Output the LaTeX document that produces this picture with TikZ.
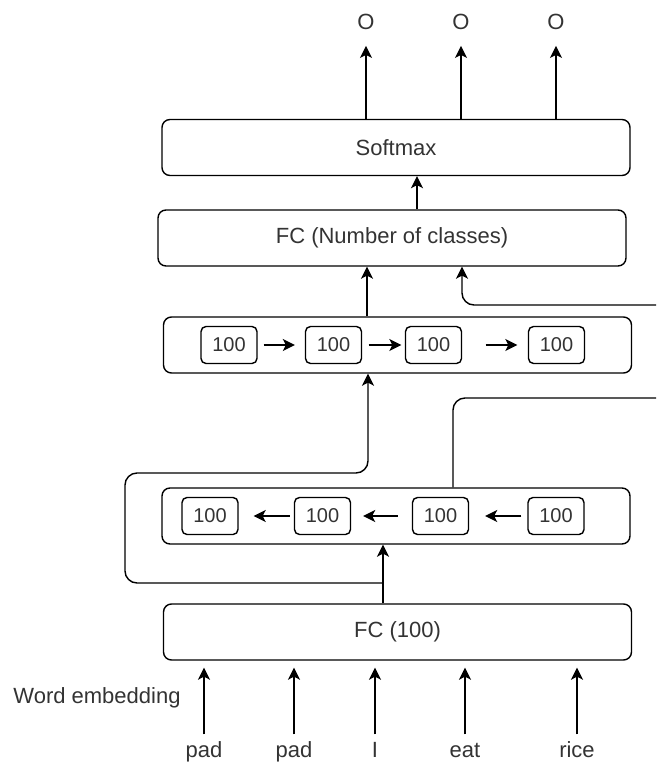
\documentclass[tikz,border=0pt]{standalone}
\usepackage{fontspec}
\setmainfont{Liberation Sans}
\usepackage{tikz}
\usetikzlibrary{arrows.meta}

\begin{document}
\begin{tikzpicture}[->, x=1pt, y=-1pt, line width=1.4pt,
        >={Stealth[length=12pt, width=12pt, inset=3pt]},
        font=\fontsize{22}{26}\selectfont, text=black!80,
        layer/.style={draw, rounded corners=8pt, minimum width=468pt, minimum height=56pt},
        cell/.style={draw, rounded corners=5pt, minimum width=56pt, minimum height=37pt, inner sep=0pt, font=\fontsize{20}{24}\selectfont},
        word/.style={anchor=base, inner sep=2pt, text height=16pt, text depth=5pt}]
        \useasboundingbox (0, 0) rectangle (656, 763);

        \node[layer](Soft) at (396, 147.5){Softmax};
        \node[layer](FCC) at (392, 238){FC (Number of classes)};
        \node[layer](Fwd) at (397.5, 345){};
        \node[layer](Bwd) at (396, 516){};
        \node[layer](FC100) at (397.5, 632){FC (100)};

        \node[anchor=base, inner sep=2pt](Out_1) at (366, 29){O};
        \node[anchor=base, inner sep=2pt](Out_2) at (461, 29){O};
        \node[anchor=base, inner sep=2pt](Out_3) at (556, 29){O};

        \path(Soft.north -| Out_1) edge [shorten >=14pt] node {}(Out_1);
        \path(Soft.north -| Out_2) edge [shorten >=14pt] node {}(Out_2);
        \path(Soft.north -| Out_3) edge [shorten >=14pt] node {}(Out_3);
        \path([xshift=25pt]FCC.north) edge node {}([xshift=21pt]Soft.south);
        \path([xshift=-30.5pt]Fwd.north) edge node {}([xshift=-25pt]FCC.south);

        \node[cell](Fwd_c1) at (229, 345){100};
        \node[cell](Fwd_c2) at (333.5, 345){100};
        \node[cell](Fwd_c3) at (433.5, 345){100};
        \node[cell](Fwd_c4) at (556.5, 345){100};

        \path(Fwd_c1) edge [shorten <=6pt, shorten >=10pt] node {}(Fwd_c2);
        \path(Fwd_c2) edge [shorten <=6.5pt, shorten >=3.5pt] node {}(Fwd_c3);
        \path(Fwd_c3) edge [shorten <=23.5pt, shorten >=10.5pt] node {}(Fwd_c4);

        \node[cell](Bwd_c1) at (210, 516){100};
        \node[cell](Bwd_c2) at (322.5, 516){100};
        \node[cell](Bwd_c3) at (440.5, 516){100};
        \node[cell](Bwd_c4) at (556, 516){100};

        \path(Bwd_c2) edge [shorten <=4pt, shorten >=15pt] node {}(Bwd_c1);
        \path(Bwd_c3) edge [shorten <=14pt, shorten >=12pt] node {}(Bwd_c2);
        \path(Bwd_c4) edge [shorten <=6pt, shorten >=16pt] node {}(Bwd_c3);

        \path([xshift=-14.5pt]FC100.north) edge node {}([xshift=-13pt]Bwd.south);
        \coordinate(Split) at (383, 583);
        \coordinate(Loop) at (125, 473);
        \draw[rounded corners=12pt](Split) -| (Loop) -| ([xshift=-29.5pt]Fwd.south);

        \coordinate(Bwd_out) at (656, 398);
        \coordinate(Bwd_in) at (656, 305);
        \draw[-, rounded corners=12pt]([xshift=57pt]Bwd.north) |- (Bwd_out);
        \draw[rounded corners=12pt](Bwd_in) -| ([xshift=70pt]FCC.south);

        \node(Embed) at (97, 698){Word embedding};
        \node[word](In_1) at (204, 757){pad};
        \node[word](In_2) at (294, 757){pad};
        \node[word](In_3) at (375, 757){I};
        \node[word](In_4) at (465, 757){eat};
        \node[word](In_5) at (577, 757){rice};

        \path(In_1) edge [shorten <=4pt, shorten >=7pt] node {}(FC100.south -| In_1);
        \path(In_2) edge [shorten <=4pt, shorten >=7pt] node {}(FC100.south -| In_2);
        \path(In_3) edge [shorten <=4pt, shorten >=7pt] node {}(FC100.south -| In_3);
        \path(In_4) edge [shorten <=4pt, shorten >=7pt] node {}(FC100.south -| In_4);
        \path(In_5) edge [shorten <=4pt, shorten >=7pt] node {}(FC100.south -| In_5);

    \end{tikzpicture}
\end{document}
